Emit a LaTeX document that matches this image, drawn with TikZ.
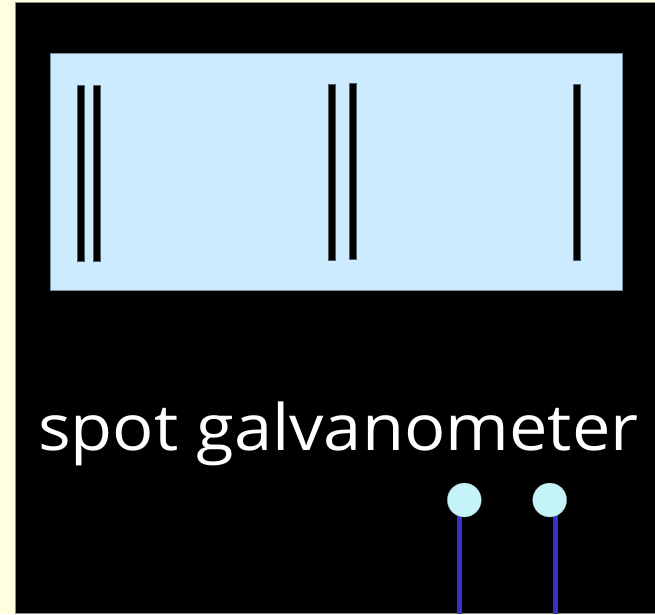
\documentclass[tikz,border=0pt]{standalone}
\usepackage{fontspec}
\usepackage{graphicx}
\newfontfamily\labelfont{Open Sans}
\definecolor{paper}{HTML}{FFFFE0}
\definecolor{screen}{HTML}{CCEBFF}
\definecolor{screenedge}{HTML}{7A8EA0}
\definecolor{terminal}{HTML}{C4F4F8}
\definecolor{wire}{HTML}{3333CC}
\tikzset{
  fringe/.style={fill=black, draw=black!60!screen, line width=0.4pt},
  terminalnode/.style={circle, fill=terminal, draw=terminal!70!black, line width=0.3pt, minimum size=34pt, inner sep=0pt},
  lead/.style={draw=wire, line width=5.6pt},
}
\begin{document}
\begin{tikzpicture}[x=1pt,y=-1pt]
  \useasboundingbox (0,0) rectangle (655,614);
  % page and instrument body
  \fill[paper] (0,0) rectangle (655,614);
  \filldraw[fill=black, draw=black!45!paper, line width=0.8pt] (15,2.6) rectangle (662,613.2);
  % scale window
  \filldraw[fill=screen, draw=screenedge, line width=0.9pt] (50.3,53.3) rectangle (622.8,290.5);
  % interference fringes on the scale
  \fill[fringe] (77.4,85) rectangle (83.7,260.7);
  \fill[fringe] (93.4,85) rectangle (99.7,260.7);
  \fill[fringe] (328.4,84) rectangle (334.7,259.7);
  \fill[fringe] (349.4,83) rectangle (355.7,258.7);
  \fill[fringe] (573.4,83.7) rectangle (579.7,260);
  % label
  \node[anchor=base west, inner sep=0pt, text=white, font=\labelfont\fontsize{64}{76}\selectfont] (label) at (38,450) {\scalebox{1.072}[1]{spot galvanometer}};
  % leads, drawn first so the terminals sit on top of them
  \coordinate (top1) at (459.6,510);
  \coordinate (top2) at (555.5,510);
  \coordinate (foot1) at (459.6,614);
  \coordinate (foot2) at (555.5,614);
  \draw[lead] (top1) -- (foot1);
  \draw[lead] (top2) -- (foot2);
  % terminals
  \node[terminalnode] (t1) at (464.3,500) {};
  \node[terminalnode] (t2) at (549.7,500) {};
\end{tikzpicture}
\end{document}
